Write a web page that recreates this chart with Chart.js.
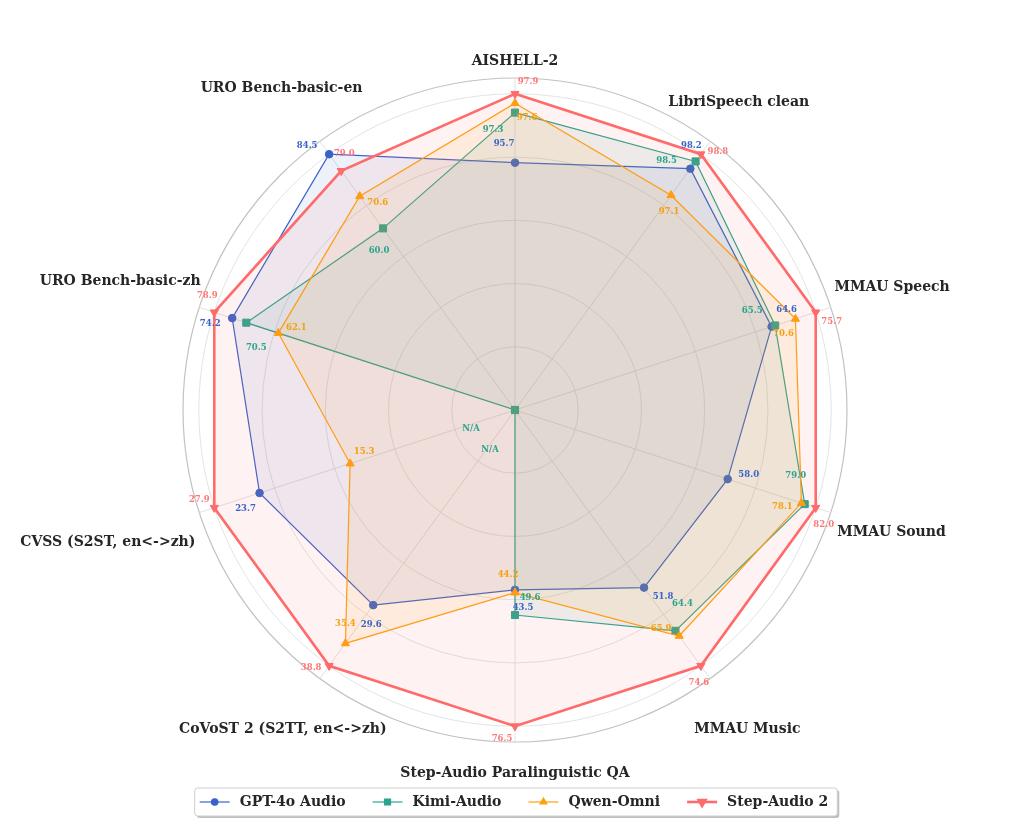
<!DOCTYPE html>
<html>
<head>
<meta charset="utf-8">
<script src="https://cdn.jsdelivr.net/npm/chart.js@4.4.0/dist/chart.umd.min.js"></script>
<style>
html,body{margin:0;padding:0;background:#ffffff;}
#wrap{width:1024px;height:830px;position:relative;}
</style>
</head>
<body>
<div id="wrap"><canvas id="c" width="1024" height="830"></canvas></div>
<script>
// ---------------- data ----------------
const categories = ['AISHELL-2', 'LibriSpeech clean', 'MMAU Speech', 'MMAU Sound', 'MMAU Music',
  'Step-Audio Paralinguistic QA', 'CoVoST 2 (S2TT, en<->zh)', 'CVSS (S2ST, en<->zh)',
  'URO Bench-basic-zh', 'URO Bench-basic-en'];
const seriesNames = ['GPT-4o Audio', 'Kimi-Audio', 'Qwen-Omni', 'Step-Audio 2'];
const gpt4oAudio = [95.7, 98.2, 64.6, 58.0, 51.8, 43.5, 29.6, 23.7, 74.2, 84.5];
const kimiAudio  = [97.3, 98.5, 65.5, 79.0, 64.4, 49.6, null, null, 70.5, 60.0];
const qwenOmni   = [97.6, 97.1, 70.6, 78.1, 65.9, 44.2, 35.4, 15.3, 62.1, 70.6];
const stepAudio2 = [97.9, 98.8, 75.7, 82.0, 74.6, 76.5, 38.8, 27.9, 78.9, 79.0];
// ASR accuracy axes are shown on a window starting at this floor; other axes are relative to the best score
const asrFloor = [87.8, 88.2, null, null, null, null, null, null, null, null];
const radialGrid = [0.2, 0.4, 0.6, 0.8, 1.0];
const radialOuter = 1.05;

// ---------------- styles / layout ----------------
const rawSeries = [gpt4oAudio, kimiAudio, qwenOmni, stepAudio2];
const lineColors = ['#3a63c9', '#2ba48e', '#ffa10a', '#ff6b6b'];
const fillColors = ['rgba(58,99,201,0.09)', 'rgba(43,164,142,0.09)', 'rgba(255,161,10,0.09)', 'rgba(255,107,107,0.09)'];
const textColors = ['#3a63c9', '#2ba48e', '#f5a00f', '#ff7878'];
const pointStyles = ['circle', 'rect', 'triangle', 'triangle'];
const pointRotations = [0, 0, 0, 180];
const pointRadii = [3.8, 5, 4.7, 4.7];
const lineWidths = [1.2, 1.2, 1.2, 2.6];
const categoryLabelRadius = [1.103, 1.204, 1.254, 1.252, 1.25, 1.149, 1.249, 1.354, 1.313, 1.256];
const valueLabelOffsets = [
  [[-11,-19],[1,-23],[15,-17],[21,-4],[19,9],[8,18],[-2,20],[-14,16],[-22,6],[-22,-8]],
  [[-22,17],[-29,-1],[-23,-15],[-9,-28],[7,-27],[15,-17],[-25,40],[-44,19],[10,25],[-4,22]],
  [[12,15],[-2,17],[-12,15],[-19,4],[-18,-7],[-7,-18],[0,-20],[14,-12],[18,-5],[18,7]],
  [[13,-12],[17,-2],[16,10],[8,17],[-2,17],[-13,13],[-18,2],[-15,-8],[-7,-16],[3,-17]]
];

function axisBest(j) {
  return Math.max(...rawSeries.map(s => s[j]).filter(v => v !== null));
}
function normalise(v, j) {
  if (v === null) return 0;
  const best = axisBest(j);
  const f = asrFloor[j];
  return f === null ? v / best : (v - f) / (best - f);
}

const datasets = rawSeries.map((s, i) => ({
  label: seriesNames[i],
  data: s.map((v, j) => normalise(v, j)),
  borderColor: lineColors[i],
  backgroundColor: fillColors[i],
  pointBackgroundColor: lineColors[i],
  pointBorderColor: lineColors[i],
  pointStyle: pointStyles[i],
  rotation: pointRotations[i],
  pointRadius: pointRadii[i],
  pointBorderWidth: 1,
  borderWidth: lineWidths[i],
  fill: true,
  order: 3 - i
}));

const SERIF = '"DejaVu Serif", serif';

const labelsPlugin = {
  id: 'labelsPlugin',
  afterDatasetsDraw(chart) {
    const ctx = chart.ctx;
    const scale = chart.scales.r;
    ctx.save();
    ctx.textAlign = 'center';
    ctx.textBaseline = 'middle';
    // value labels
    ctx.font = 'bold 8.5px ' + SERIF;
    rawSeries.forEach((s, i) => {
      s.forEach((v, j) => {
        const p = scale.getPointPositionForValue(j, normalise(v, j));
        const off = valueLabelOffsets[i][j];
        ctx.fillStyle = textColors[i];
        ctx.fillText(v === null ? 'N/A' : v.toFixed(1), p.x + off[0], p.y + off[1]);
      });
    });
    // category labels
    ctx.font = 'bold 14px ' + SERIF;
    ctx.fillStyle = '#262626';
    categories.forEach((c, j) => {
      const p = scale.getPointPositionForValue(j, categoryLabelRadius[j]);
      ctx.fillText(c, p.x, p.y);
    });
    ctx.restore();
  },
  afterDraw(chart) {
    const ctx = chart.ctx;
    ctx.save();
    ctx.font = 'bold 14px ' + SERIF;
    const sw = 30, gap = 10, colGap = 27, pad = 5;
    const widths = seriesNames.map(n => ctx.measureText(n).width);
    let content = 0;
    widths.forEach((w, i) => { content += sw + gap + w + (i < widths.length - 1 ? colGap : 0); });
    const boxW = content + pad * 2 + 4;
    const boxH = 28;
    const cx = 516, top = 788;
    const left = cx - boxW / 2;
    // shadow
    ctx.fillStyle = 'rgba(0,0,0,0.25)';
    ctx.beginPath();
    ctx.roundRect(left + 2, top + 2, boxW, boxH, 3);
    ctx.fill();
    ctx.fillStyle = '#ffffff';
    ctx.strokeStyle = '#cfcfcf';
    ctx.lineWidth = 1;
    ctx.beginPath();
    ctx.roundRect(left, top, boxW, boxH, 3);
    ctx.fill();
    ctx.stroke();
    let x = left + pad;
    const y = top + boxH / 2;
    seriesNames.forEach((n, i) => {
      ctx.strokeStyle = lineColors[i];
      ctx.lineWidth = lineWidths[i];
      ctx.beginPath();
      ctx.moveTo(x, y);
      ctx.lineTo(x + sw, y);
      ctx.stroke();
      ctx.fillStyle = lineColors[i];
      Chart.helpers.drawPoint(ctx, {
        pointStyle: pointStyles[i], rotation: pointRotations[i],
        radius: pointRadii[i] * 0.85, borderWidth: 1
      }, x + sw / 2, y);
      ctx.fillStyle = '#262626';
      ctx.textAlign = 'left';
      ctx.textBaseline = 'middle';
      ctx.fillText(n, x + sw + gap, y + 0.5);
      x += sw + gap + widths[i] + colGap;
    });
    ctx.restore();
  }
};

const bgPlugin = {
  id: 'bg',
  beforeDraw(chart) {
    const ctx = chart.ctx;
    ctx.save();
    ctx.fillStyle = '#ffffff';
    ctx.fillRect(0, 0, chart.width, chart.height);
    ctx.restore();
  }
};

new Chart(document.getElementById('c'), {
  type: 'radar',
  data: { labels: categories, datasets: datasets },
  options: {
    responsive: false,
    animation: false,
    layout: { padding: { left: 183, right: 177, top: 78, bottom: 88 } },
    plugins: { legend: { display: false }, tooltip: { enabled: false } },
    elements: { line: { tension: 0 } },
    scales: {
      r: {
        min: 0,
        max: radialOuter,
        ticks: { display: false },
        afterBuildTicks(scale) {
          scale.ticks = [0].concat(radialGrid, [radialOuter]).map(v => ({ value: v }));
        },
        grid: {
          circular: true,
          color: ctx => (ctx.tick && ctx.tick.value > 1.01) ? '#c2c2c2' : '#e0e0e0',
          lineWidth: ctx => (ctx.tick && ctx.tick.value > 1.01) ? 1.2 : 0.9
        },
        angleLines: { color: '#dedede', lineWidth: 0.9 },
        pointLabels: { display: false }
      }
    }
  },
  plugins: [bgPlugin, labelsPlugin]
});
</script>
</body>
</html>
